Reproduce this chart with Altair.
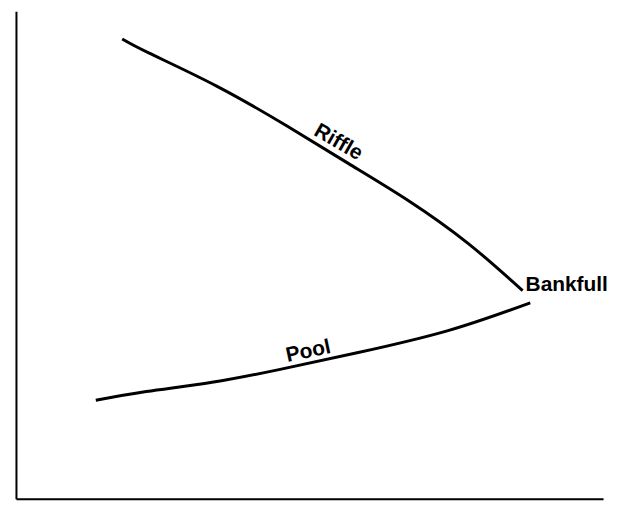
import altair as alt
import pandas as pd

# Riffle curve (relative units)
riffle_x = [18.1, 22.7, 34.1, 46.1, 56.6, 66.8, 77.0, 86.3]
riffle_y = [94.3, 91.4, 84.7, 76.5, 68.8, 61.2, 52.4, 42.7]

# Pool curve (relative units)
pool_x = [13.6, 22.2, 33.4, 44.8, 58.3, 73.6, 87.6]
pool_y = [20.2, 22.0, 23.9, 26.5, 30.0, 34.5, 40.2]

# Labels
label_text = ["Riffle", "Pool", "Bankfull"]
label_x = [54.9, 49.8, 86.8]
label_y = [73.1, 30.2, 43.9]
label_angle = [30, 348, 0]
label_align = ["center", "center", "left"]

lines = pd.DataFrame(
    {"x": riffle_x + pool_x,
     "y": riffle_y + pool_y,
     "series": ["Riffle"] * len(riffle_x) + ["Pool"] * len(pool_x),
     "order": list(range(len(riffle_x))) + list(range(len(pool_x)))}
)
labels = pd.DataFrame({"x": label_x, "y": label_y, "text": label_text,
                       "angle": label_angle, "align": label_align})

xs = alt.Scale(domain=[0, 100], nice=False, zero=False)
ys = alt.Scale(domain=[0, 100], nice=False, zero=False)
ax = alt.Axis(title=None, labels=False, ticks=False, grid=False,
              domainColor="black", domainWidth=2)

line_layer = alt.Chart(lines).mark_line(
    color="black", strokeWidth=3, interpolate="natural"
).encode(
    x=alt.X("x:Q", scale=xs, axis=ax),
    y=alt.Y("y:Q", scale=ys, axis=ax),
    detail="series:N",
    order="order:Q",
)

def text_layer(i):
    d = labels.iloc[[i]]
    return alt.Chart(d).mark_text(
        font="Liberation Sans", fontSize=21, fontWeight="bold",
        angle=label_angle[i], align=label_align[i], baseline="middle",
        color="black"
    ).encode(x=alt.X("x:Q", scale=xs), y=alt.Y("y:Q", scale=ys), text="text:N")

chart = alt.layer(line_layer, text_layer(0), text_layer(1), text_layer(2)).properties(
    width=590, height=490,
    autosize=alt.AutoSizeParams(type="none"),
    padding={"left": 8, "top": 2, "right": 10, "bottom": 10},
    background="white",
).configure_view(stroke=None)

chart.save("out.html", embed_options={"renderer": "svg", "actions": False})
